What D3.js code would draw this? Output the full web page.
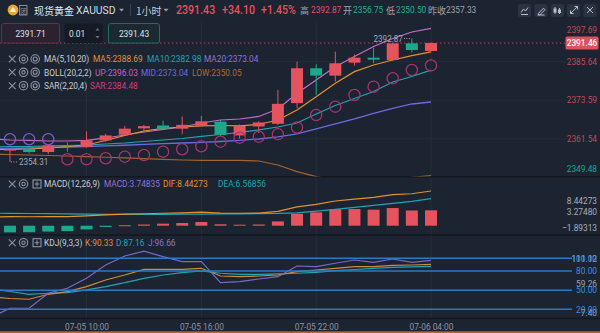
<!DOCTYPE html>
<html><head><meta charset="utf-8">
<script src="https://cdn.jsdelivr.net/npm/d3@7/dist/d3.min.js"></script>
<style>
html,body{margin:0;padding:0;background:#1c2331;overflow:hidden}
svg{display:block;font-family:Roboto,"Noto Sans","Noto Sans CJK SC",sans-serif}
</style></head><body>
<svg id="chart" width="600" height="333"></svg>
<script>
// ---- data: hourly XAUUSD candles and indicators ----
const times = ["07-05 05:00","07-05 06:00","07-05 07:00","07-05 08:00","07-05 09:00","07-05 10:00",
  "07-05 11:00","07-05 12:00","07-05 13:00","07-05 14:00","07-05 15:00","07-05 16:00","07-05 17:00",
  "07-05 18:00","07-05 19:00","07-05 20:00","07-05 21:00","07-05 22:00","07-05 23:00","07-06 00:00",
  "07-06 01:00","07-06 02:00","07-06 03:00","07-06 04:00"];
const open  = [2356.8,2357.84,2358.4,2357.4,2359.6,2359.0,2361.05,2362.8,2364.8,2365.7,2364.7,2365.6,2366.9,2362.6,2365.4,2366.24,2372.69,2383.58,2381.28,2385.33,2386.89,2386.17,2391.37,2388.97];
const high  = [2357.9,2358.6,2358.8,2359.9,2360.4,2363.85,2363.1,2365.6,2365.9,2367.2,2368.5,2368.7,2367.5,2366.0,2367.0,2376.83,2385.64,2384.83,2388.75,2387.9,2390.0,2391.5,2392.87,2391.7];
const low   = [2355.9,2354.31,2356.9,2356.7,2357.5,2358.8,2360.6,2362.5,2363.5,2364.5,2363.0,2365.4,2362.3,2361.6,2363.35,2365.9,2371.13,2375.27,2379.41,2384.4,2385.14,2385.9,2388.57,2388.8];
const close = [2357.6,2358.37,2357.4,2359.4,2359.3,2361.05,2362.6,2364.7,2365.5,2364.7,2365.9,2367.0,2362.8,2365.6,2366.65,2372.47,2383.58,2381.28,2385.14,2386.89,2386.26,2391.37,2389.28,2391.46];
const ma5   = [2358.20,2358.20,2358.36,2358.67,2359.08,2359.61,2361.02,2362.58,2363.98,2364.77,2365.23,2365.55,2365.70,2365.55,2366.02,2367.42,2370.55,2374.70,2378.89,2382.52,2384.61,2386.17,2387.52,2388.69];
const ma10  = [2358.98,2359.08,2359.14,2359.30,2359.45,2359.61,2359.92,2360.23,2360.70,2361.17,2361.64,2362.27,2362.89,2363.52,2364.30,2365.23,2366.48,2369.30,2371.95,2374.14,2376.33,2379.30,2381.02,2382.98];
const bollMid = [2358.42,2358.51,2358.67,2358.83,2358.98,2359.14,2359.30,2359.52,2359.77,2360.02,2360.23,2360.45,2360.70,2361.02,2361.48,2362.11,2363.05,2364.61,2366.17,2367.73,2369.45,2371.08,2372.42,2373.04];
const bollUp  = [2361.48,2361.17,2361.02,2360.86,2360.86,2361.02,2361.80,2362.73,2363.67,2364.45,2365.23,2366.48,2367.42,2367.73,2368.52,2370.86,2375.76,2379.92,2384.08,2387.27,2390.39,2392.89,2394.92,2396.03];
const bollLow = [2356.73,2356.64,2356.48,2356.33,2356.17,2355.95,2355.77,2355.55,2355.33,2355.14,2354.92,2354.77,2354.77,2354.77,2354.61,2353.36,2351.27,2349.7,2348.7,2348.3,2348.4,2348.9,2349.5,2350.05];
const sar   = [2361.39,2361.39,2361.39,2361.39,2355.14,2355.14,2355.45,2355.95,2356.48,2357.52,2358.27,2359.20,2360.64,2361.89,2362.20,2362.98,2365.08,2368.98,2371.58,2375.23,2377.83,2380.45,2383.05,2384.48];
const macdHist = [-1.89313,-1.62,-1.58,-1.42,-1.3,-0.9,-0.32,0.12,0.3,0.5,0.65,0.9,0.35,0.25,0.3,1.05,2.9,3.25,4.05,4.05,3.9,4.3,3.7,3.74835];
const dif   = [2.10,2.21,2.18,2.21,2.22,2.37,2.62,2.82,2.91,3.03,3.13,3.29,3.06,3.03,3.08,3.51,4.59,5.18,6.01,6.48,6.88,7.57,7.78,8.44273];
const dea   = [3.05,3.02,2.97,2.92,2.87,2.82,2.78,2.76,2.76,2.78,2.8,2.84,2.88,2.9,2.93,2.98,3.14,3.55,3.98,4.45,4.93,5.42,5.93,6.56856];
const kLine = [39.3,36.9,35.7,43.5,47.6,55.5,66.0,73.8,82.7,82.7,82.7,84.3,72.2,71.1,72.2,73.8,79.0,81.6,84.3,86.8,87.0,89.0,89.5,90.33];
const dLine = [52.3,47.9,43.5,45.1,46.0,50.3,55.5,61.7,68.6,73.8,77.4,80.1,76.5,74.9,74.9,75.4,76.5,78.0,80.5,82.4,84.3,85.6,86.5,87.16];
const jLine = [7.40,21.6,21.6,45.1,52.9,68.6,89.5,103.6,111.12,102.5,94.7,94.7,61.7,63.3,67.5,71.1,87.9,86.8,92.2,97.3,93.7,98.9,93.7,96.66];

const timeTicks  = ["07-05 10:00","07-05 16:00","07-05 22:00","07-06 04:00"];
const priceTicks = [2397.69,2385.64,2373.59,2361.54,2349.48];
const lastPrice  = 2391.46;
const prevClose  = 2357.33;
const macdTicks  = [8.44273,3.27480,-1.89313];
const kdjLevels  = [100,80,50,20];
const kdjRange   = [111.12,59.26,7.40];

// ---- colours ----
const C = {
  bg:"#1c2331", grid:"#252d3b", sep:"#121720", text:"#c9cdd4", dim:"#8d94a0",
  up:"#e5535f", down:"#1aa98b", ma5:"#e3922f", ma10:"#1fa5b5", ma20:"#8e73d6",
  mid:"#6a6ce0", bup:"#c76cc8", bupT:"#d05fc8", blow:"#a5622e", blowT:"#b8672f",
  sar:"#d23f7f", sarDn:"#a83270", sarUp:"#7c5cc8", kdjLvl:"#2b7bc4", kdjLvlT:"#3b8ee0"
};

const svg = d3.select("#chart");
svg.append("rect").attr("width",600).attr("height",333).attr("fill",C.bg);

// Latin text is drawn slightly condensed
function txt(g, x, y, s, fill, size, anchor, weight, sx) {
  return g.append("text")
    .attr("transform", `translate(${x},${y}) scale(${sx==null?0.85:sx},1)`)
    .attr("text-anchor", anchor||"start").attr("dominant-baseline","central")
    .attr("font-size", size).attr("font-weight", weight||400)
    .attr("fill", fill).text(s);
}
function cjk(g, x, y, s, fill, size) {
  return g.append("text").attr("x",x).attr("y",y).attr("dominant-baseline","central")
    .attr("font-family","'Noto Sans CJK SC',sans-serif").attr("font-size",size)
    .attr("fill",fill).text(s);
}

// ---- scales ----
const x = d3.scalePoint().domain(times).range([-9.17, 431]);
const y = d3.scaleLinear().domain([2349.48, 2397.69]).range([177.4, 23.1]);
const yM = d3.scaleLinear().domain([-1.89313, 8.44273]).range([233.5, 191]);
const yK = d3.scaleLinear().domain([7.40, 111.12]).range([317.3, 251.2]);
const xi = i => x(times[i]);

// ---- grid ----
const grid = svg.append("g");
timeTicks.forEach(t => grid.append("line").attr("x1",x(t)).attr("x2",x(t)).attr("y1",22).attr("y2",318)
  .attr("stroke",C.grid).attr("stroke-width",1));
priceTicks.slice(1,4).forEach(p => grid.append("line").attr("x1",0).attr("x2",566).attr("y1",y(p)).attr("y2",y(p))
  .attr("stroke",C.grid).attr("stroke-width",1));

// pane separators
[176.8, 235, 318.5].forEach(v => svg.append("line").attr("x1",0).attr("x2",600).attr("y1",v).attr("y2",v)
  .attr("stroke",C.sep).attr("stroke-width",1.6));

// clip regions
const defs = svg.append("defs");
defs.append("clipPath").attr("id","cMain").append("rect").attr("x",0).attr("y",22).attr("width",566).attr("height",154.5);
defs.append("clipPath").attr("id","cMacd").append("rect").attr("x",0).attr("y",178).attr("width",566).attr("height",56);
defs.append("clipPath").attr("id","cKdj").append("rect").attr("x",0).attr("y",236).attr("width",600).attr("height",82);

// ---- main pane ----
const main = svg.append("g").attr("clip-path","url(#cMain)");
const line = (arr, sc) => d3.line().x((d,i)=>xi(i)).y(d=>sc(d))(arr);

// current price dotted line
main.append("line").attr("x1",0).attr("x2",566).attr("y1",y(lastPrice)).attr("y2",y(lastPrice))
  .attr("stroke","#b8404c").attr("stroke-width",1).attr("stroke-dasharray","1.5,2.5");

main.append("path").attr("d",line(bollLow,y)).attr("fill","none").attr("stroke",C.blow).attr("stroke-width",1.2);
main.append("path").attr("d",line(bollMid,y)).attr("fill","none").attr("stroke",C.mid).attr("stroke-width",1.3);
main.append("path").attr("d",line(ma10,y)).attr("fill","none").attr("stroke",C.ma10).attr("stroke-width",1.2);
main.append("path").attr("d",line(bollUp,y)).attr("fill","none").attr("stroke",C.bup).attr("stroke-width",1.2);
main.append("path").attr("d",line(ma5,y)).attr("fill","none").attr("stroke",C.ma5).attr("stroke-width",1.2);

// candles
const cw = 12;
times.forEach((t,i) => {
  const col = close[i] >= open[i] ? C.up : C.down;
  const cx = x(t);
  main.append("line").attr("x1",cx).attr("x2",cx).attr("y1",y(high[i])).attr("y2",y(low[i]))
    .attr("stroke",col).attr("stroke-width",1);
  const top = y(Math.max(open[i],close[i])), bot = y(Math.min(open[i],close[i]));
  main.append("rect").attr("x",cx-cw/2).attr("y",top).attr("width",cw).attr("height",Math.max(1.2,bot-top))
    .attr("fill",col);
});

// SAR markers
times.forEach((t,i) => {
  main.append("circle").attr("cx",x(t)).attr("cy",y(sar[i])).attr("r",5.6)
    .attr("fill","none").attr("stroke", sar[i] > close[i] ? C.sarUp : C.sarDn).attr("stroke-width",1.3);
});

// high / low markers
{
  const hi = d3.maxIndex(high.slice(1)) + 1, lo = d3.minIndex(low.slice(1)) + 1;
  main.append("line").attr("x1",xi(hi)-8).attr("x2",xi(hi)-1).attr("y1",y(high[hi])).attr("y2",y(high[hi]))
    .attr("stroke","#9aa0aa").attr("stroke-dasharray","1,1.5");
  txt(main, xi(hi)-9, y(high[hi]), d3.format(".2f")(high[hi]), "#a3a9b3", 9.5, "end");
  main.append("line").attr("x1",xi(lo)+1).attr("x2",xi(lo)+8).attr("y1",y(low[lo])).attr("y2",y(low[lo]))
    .attr("stroke","#9aa0aa").attr("stroke-dasharray","1,1.5");
  txt(main, xi(lo)+9, y(low[lo]), d3.format(".2f")(low[lo]), "#a3a9b3", 9.5, "start");
}

// price axis labels
priceTicks.forEach(p => {
  const yy = Math.min(Math.max(y(p), 30), 169);
  txt(svg, 597, yy, d3.format(".2f")(p), p < prevClose ? C.down : "#c24a55", 9.8, "end");
});
svg.append("rect").attr("x",565.5).attr("y",y(lastPrice)-6.5).attr("width",33).attr("height",13).attr("rx",1.5).attr("fill","#e0505c");
txt(svg, 582, y(lastPrice), d3.format(".2f")(lastPrice), "#ffffff", 9.8, "middle", 500);

// ---- MACD pane ----
const macd = svg.append("g").attr("clip-path","url(#cMacd)");
times.forEach((t,i) => {
  const v = macdHist[i];
  macd.append("rect").attr("x",x(t)-cw/2).attr("width",cw)
    .attr("y", Math.min(yM(0), yM(v))).attr("height", Math.max(1, Math.abs(yM(v)-yM(0))))
    .attr("fill", v >= 0 ? C.up : C.down);
});
macd.append("path").attr("d",line(dea,yM)).attr("fill","none").attr("stroke",C.ma10).attr("stroke-width",1.2);
macd.append("path").attr("d",line(dif,yM)).attr("fill","none").attr("stroke",C.ma5).attr("stroke-width",1.2);
macdTicks.forEach(v => {
  const yy = Math.min(Math.max(yM(v), 200.7), 227.3);
  txt(svg, 597, yy, d3.format(".5f")(v), "#a8aeb8", 9.8, "end");
});

// ---- KDJ pane ----
const kdj = svg.append("g").attr("clip-path","url(#cKdj)");
kdjRange.forEach(v => {
  const yy = Math.min(Math.max(yK(v), 258.3), 313);
  txt(svg, 597, yy, d3.format(".2f")(v), "#a0a6b0", 9.8, "end");
});
kdjLevels.forEach(v => {
  svg.append("line").attr("x1",0).attr("x2",572).attr("y1",yK(v)).attr("y2",yK(v))
    .attr("stroke",C.kdjLvl).attr("stroke-width",1.5);
  txt(svg, 597, yK(v), d3.format(".2f")(v), C.kdjLvlT, 9.8, "end");
});
kdj.append("path").attr("d",line(dLine,yK)).attr("fill","none").attr("stroke",C.ma10).attr("stroke-width",1.2);
kdj.append("path").attr("d",line(kLine,yK)).attr("fill","none").attr("stroke","#d08a3a").attr("stroke-width",1.2);
kdj.append("path").attr("d",line(jLine,yK)).attr("fill","none").attr("stroke","#7a68c8").attr("stroke-width",1.2);

// ---- time axis ----
const ax = svg.append("g").attr("transform","translate(0,319)")
  .call(d3.axisBottom(x).tickValues(timeTicks).tickSize(0).tickPadding(4));
ax.select(".domain").remove();
ax.selectAll("text").attr("fill",C.dim).attr("font-size",9.5).attr("font-family","Roboto,sans-serif")
  .attr("transform","scale(0.88,1)").attr("x", function(){ return 0; });
ax.selectAll(".tick").each(function(){
  const t = d3.select(this).select("text");
});
svg.append("rect").attr("x",0).attr("y",331.3).attr("width",600).attr("height",1.8).attr("fill","#b5652f");

// ---- legend rows ----
function icons(yc, boxed) {
  const g = svg.append("g").attr("stroke",C.dim).attr("fill","none").attr("stroke-width",1.1);
  g.append("path").attr("d",`M8.8,${yc-3.4}L15.6,${yc+3.4}M15.6,${yc-3.4}L8.8,${yc+3.4}`);
  g.append("circle").attr("cx",23.5).attr("cy",yc).attr("r",4.2);
  g.append("circle").attr("cx",23.5).attr("cy",yc).attr("r",1.7);
  if (boxed) {
    g.append("rect").attr("x",33).attr("y",yc-4).attr("width",8).attr("height",8);
    g.append("path").attr("d",`M37,${yc-2.4}V${yc+2.4}M34.6,${yc}H39.4`);
  } else {
    g.append("circle").attr("cx",35.2).attr("cy",yc).attr("r",4.2);
    g.append("circle").attr("cx",35.2).attr("cy",yc).attr("r",2);
  }
}
icons(59,false); icons(72.3,false); icons(85.7,false);
txt(svg,44,59,"MA(5,10,20)",C.text,9.8);
txt(svg,93,59,"MA5:2388.69",C.ma5,9.8);
txt(svg,147,59,"MA10:2382.98",C.ma10,9.8);
txt(svg,204,59,"MA20:2373.04",C.ma20,9.8);
txt(svg,44,72.3,"BOLL(20,2,2)",C.text,9.8);
txt(svg,95,72.3,"UP:2396.03",C.bupT,9.8);
txt(svg,141,72.3,"MID:2373.04",C.mid,9.8);
txt(svg,192,72.3,"LOW:2350.05",C.blowT,9.8);
txt(svg,44,85.7,"SAR(2,20,4)",C.text,9.8);
txt(svg,90,85.7,"SAR:2384.48",C.sar,9.8);

icons(184,true);
txt(svg,44,184,"MACD(12,26,9)",C.text,9.8);
txt(svg,104,184,"MACD:3.74835",C.ma20,9.8);
txt(svg,163,184,"DIF:8.44273",C.ma5,9.8);
txt(svg,218,184,"DEA:6.56856",C.ma10,9.8);

icons(242.7,true);
txt(svg,44,242.7,"KDJ(9,3,3)",C.text,9.8);
txt(svg,85,242.7,"K:90.33",C.ma5,9.8);
txt(svg,116,242.7,"D:87.16",C.ma10,9.8);
txt(svg,148,242.7,"J:96.66",C.ma20,9.8);

// ---- header ----
const hd = svg.append("g");
hd.append("circle").attr("cx",13).attr("cy",10).attr("r",5.4).attr("fill","#eaa53a");
hd.append("path").attr("d","M10,12h6l-1,-2.2h-4z M11.4,9.6h3.2l-0.6,-1.8h-2z").attr("fill","#fff7e0");
hd.append("rect").attr("x",19.5).attr("y",5.5).attr("width",7.5).attr("height",9.5).attr("fill","none").attr("stroke","#8d94a0").attr("stroke-width",0.9);
cjk(hd,20.2,10.5,"团","#8d94a0",6.5);
cjk(hd,34,10,"现货黄金","#e4e7ec",10);
txt(hd,76,10,"XAUUSD","#d8dce2",11.5,"start",400,0.9);
const tri = (cx,cy) => hd.append("path").attr("d",`M${cx-2.5},${cy-1.3}L${cx+2.5},${cy-1.3}L${cx},${cy+1.6}Z`).attr("fill","#9aa0aa");
tri(121.5,10);
hd.append("line").attr("x1",130.5).attr("x2",130.5).attr("y1",4).attr("y2",16).attr("stroke","#3a4252");
cjk(hd,136,10,"1小时","#c9cdd4",10);
tri(166,10);
txt(hd,176,10,"2391.43","#e8505c",12.5,"start",500);
txt(hd,222,10,"+34.10","#e8505c",12.5,"start",500);
txt(hd,261,10,"+1.45%","#e8505c",12.5,"start",500);
cjk(hd,300,10,"高","#a0a6b0",9);
txt(hd,311,10,"2392.87","#e8505c",9.8);
cjk(hd,343,10,"开","#a0a6b0",9);
txt(hd,353,10,"2356.75","#25b08f",9.8);
cjk(hd,386,10,"低","#a0a6b0",9);
txt(hd,396,10,"2350.50","#25b08f",9.8);
cjk(hd,428,10,"昨收","#a0a6b0",9);
txt(hd,446,10,"2357.33","#a0a6b0",9.8);

// toolbar buttons
const bx = [518,534.5,551,567,583.5];
bx.forEach(b => hd.append("rect").attr("x",b).attr("y",4).attr("width",13).attr("height",13).attr("rx",2).attr("fill","#2b3343"));
const ic = hd.append("g").attr("stroke","#b8bec8").attr("fill","none").attr("stroke-width",1);
ic.append("path").attr("d","M521,12.5L523.5,9L525.5,11L528,7.5M521,14.5H528");
ic.append("path").attr("d","M538,13.8L543.5,8.2L545,9.7L539.5,15.2Z M537.5,15h7");
ic.append("path").attr("d","M555,7v7M559.5,8v6");
hd.append("rect").attr("x",553.5).attr("y",8.5).attr("width",3).attr("height",4).attr("fill","#b8bec8");
hd.append("rect").attr("x",558).attr("y",9.5).attr("width",3).attr("height",3.5).attr("fill","#b8bec8");
ic.append("path").attr("d","M570.5,13.5L577.5,6.5M574.5,6.5H577.5V9.5M570.5,10.5V13.5H573.5");
ic.append("path").attr("d","M587,7L593,13M593,7L587,13");

// order boxes
svg.append("rect").attr("x",1.5).attr("y",23.5).attr("width",58).attr("height",19.5).attr("rx",2)
  .attr("fill","#2b2231").attr("stroke","#6e2f3c");
txt(svg,30.5,33.3,"2391.71","#dfe2e8",9.8,"middle");
svg.append("rect").attr("x",64.5).attr("y",23.5).attr("width",38).attr("height",19.5).attr("rx",2).attr("fill","#151a24");
txt(svg,69,33.3,"0.01","#dfe2e8",9.8);
svg.append("path").attr("d","M95.5,30.5L97.5,28L99.5,30.5Z M95.5,36L97.5,38.5L99.5,36Z").attr("fill","#6a717c");
svg.append("rect").attr("x",108.5).attr("y",23.5).attr("width",51).attr("height",19.5).attr("rx",2)
  .attr("fill","#1b2a30").attr("stroke","#1e6e5e");
txt(svg,134,33.3,"2391.43","#dfe2e8",9.8,"middle");
</script>
</body></html>
